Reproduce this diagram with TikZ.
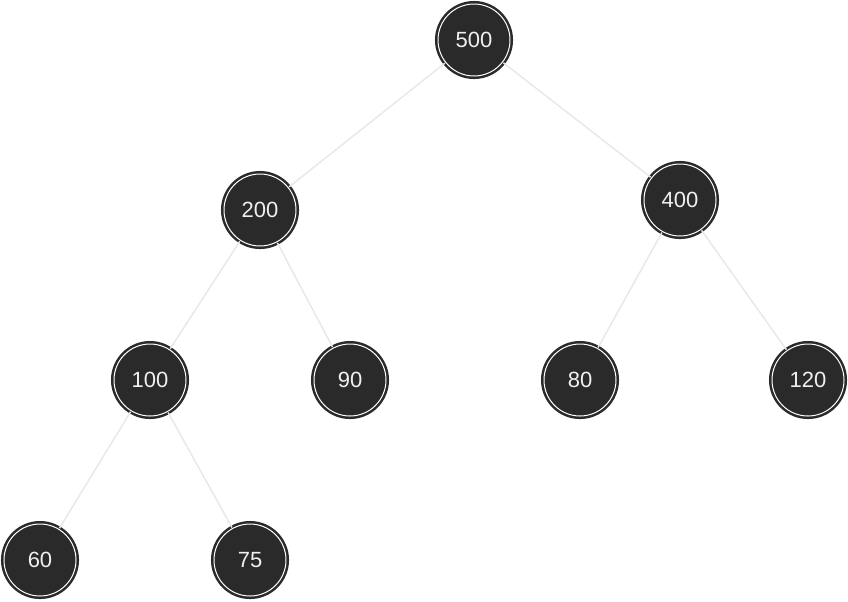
\documentclass[tikz,border=0pt]{standalone}
\usepackage{fontspec}
\setmainfont{Liberation Sans}
\definecolor{nodefill}{HTML}{2A2A2A}
\definecolor{edgegray}{HTML}{E8E8E8}
\begin{document}
\begin{tikzpicture}[x=0.75pt, y=-0.75pt,
        key/.style={circle, fill=nodefill, draw=nodefill, line width=1.9pt,
            double=white, double distance=0.75pt, minimum size=54pt, inner sep=0pt,
            text=white!94!black, font=\fontsize{16.5}{16.5}\selectfont},
        edge/.style={draw=edgegray, line width=1.1pt}]
            \useasboundingbox (0, 0) rectangle (848, 601);

            \node[key] (n500) at (474, 40) {500};
            \node[key] (n200) at (260, 210) {200};
            \node[key] (n400) at (680, 200) {400};
            \node[key] (n100) at (150, 380) {100};
            \node[key] (n90) at (350, 380) {90};
            \node[key] (n80) at (580, 380) {80};
            \node[key] (n120) at (808, 380) {120};
            \node[key] (n60) at (40, 560) {60};
            \node[key] (n75) at (250, 560) {75};

            \draw[edge] (n500) -- (n200);
            \draw[edge] (n500) -- (n400);
            \draw[edge] (n200) -- (n100);
            \draw[edge] (n200) -- (n90);
            \draw[edge] (n400) -- (n80);
            \draw[edge] (n400) -- (n120);
            \draw[edge] (n100) -- (n60);
            \draw[edge] (n100) -- (n75);
        \end{tikzpicture}
\end{document}
